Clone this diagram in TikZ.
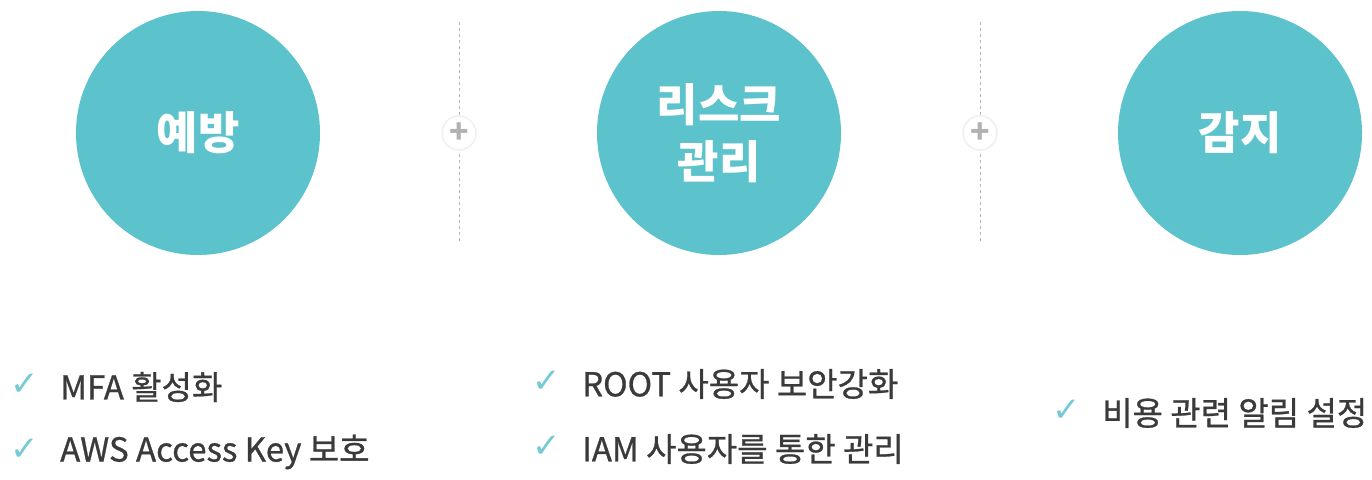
\documentclass[tikz,border=0pt]{standalone}
\usepackage{fontspec}
\setmainfont{Noto Sans CJK KR}
\newfontfamily\symfont{DejaVu Sans}
\definecolor{teal}{HTML}{5CC2CB}
\definecolor{ink}{HTML}{3A3A3A}
\definecolor{sep}{HTML}{B4B4B4}
\tikzset{
  topic/.style={circle,fill=teal,minimum size=244pt,inner sep=0pt,text=white,
    font=\fontsize{45}{57}\selectfont\bfseries,align=center},
  plusmark/.style={circle,fill=white,draw=black!6,line width=1.5pt,minimum size=34pt,
    inner sep=0pt,text=black!30,font=\fontsize{32}{32}\selectfont\bfseries},
  tick/.style={text=teal!85,font=\symfont\fontsize{34}{34}\selectfont,anchor=west,inner sep=0pt},
  item/.style={text=ink,font=\addfontfeatures{FakeBold=0.8}\fontsize{33}{33}\selectfont,
    anchor=west,inner sep=0pt}
}
\begin{document}
\begin{tikzpicture}[x=1pt,y=-1pt]
\useasboundingbox[fill=white] (0,0) rectangle (1372,479);

% separators
\draw[sep,dashed,line width=0.8pt] (459,22) -- (459,244);
\draw[sep,dashed,line width=0.8pt] (980,22) -- (980,244);

% circles
\node[topic] (prevent) at (198,133) {예방};
\node[topic] (risk) at (719,133) {리스크\\관리};
\node[topic] (detect) at (1240,133) {감지};

\node[plusmark] (plusa) at (459,133) {+};
\node[plusmark] (plusb) at (980,133) {+};

% lists
\node[tick] (ta) at (10,385) {✓};
\node[item] (ia) at (60,387) {MFA 활성화};
\node[tick] (tb) at (10,450) {✓};
\node[item] (ib) at (60,452) {AWS Access Key 보호};

\node[tick] (tc) at (532,382) {✓};
\node[item] (ic) at (582,384) {ROOT 사용자 보안강화};
\node[tick] (td) at (532,447) {✓};
\node[item] (id) at (582,449) {IAM 사용자를 통한 관리};

\node[tick] (te) at (1052,411) {✓};
\node[item] (ie) at (1102,413) {비용 관련 알림 설정};
\end{tikzpicture}
\end{document}
